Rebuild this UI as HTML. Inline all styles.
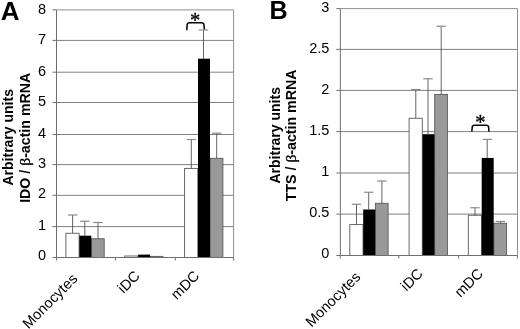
<!DOCTYPE html>
<html><head><meta charset="utf-8"><title>Figure</title>
<style>
html,body{margin:0;padding:0;background:#fff;}
svg{display:block;will-change:transform;opacity:0.999;}
text{font-family:"Liberation Sans",Arial,sans-serif;fill:#000;}
.tk{font-size:14.5px;}
.cat{font-size:14.6px;}
.pl{font-size:24.5px;font-weight:bold;}
.yt{font-size:14.2px;font-weight:bold;}
.beta{font-weight:normal;font-size:15.6px;font-family:"Liberation Serif","DejaVu Serif",serif;stroke:#000;stroke-width:0.3px;}
.ast{font-size:20.5px;stroke:#000;stroke-width:0.35px;font-family:"Liberation Serif","DejaVu Serif",serif;}
</style></head><body>
<svg width="520" height="329" viewBox="0 0 520 329">
<rect width="520" height="329" fill="#fff"/>
<line x1="56.5" y1="9.9" x2="233.6" y2="9.9" stroke="#909090" stroke-width="1"/>
<line x1="52.5" y1="9.9" x2="56.5" y2="9.9" stroke="#6e6e6e" stroke-width="1"/>
<text x="46" y="13.6" text-anchor="end" class="tk">8</text>
<line x1="56.5" y1="40.4" x2="233.6" y2="40.4" stroke="#808080" stroke-width="1"/>
<line x1="52.5" y1="40.4" x2="56.5" y2="40.4" stroke="#6e6e6e" stroke-width="1"/>
<text x="46" y="43.99" text-anchor="end" class="tk">7</text>
<line x1="56.5" y1="72.2" x2="233.6" y2="72.2" stroke="#808080" stroke-width="1"/>
<line x1="52.5" y1="72.2" x2="56.5" y2="72.2" stroke="#6e6e6e" stroke-width="1"/>
<text x="46" y="75.67" text-anchor="end" class="tk">6</text>
<line x1="56.5" y1="102.5" x2="233.6" y2="102.5" stroke="#808080" stroke-width="1"/>
<line x1="52.5" y1="102.5" x2="56.5" y2="102.5" stroke="#6e6e6e" stroke-width="1"/>
<text x="46" y="105.86" text-anchor="end" class="tk">5</text>
<line x1="56.5" y1="134.5" x2="233.6" y2="134.5" stroke="#808080" stroke-width="1"/>
<line x1="52.5" y1="134.5" x2="56.5" y2="134.5" stroke="#6e6e6e" stroke-width="1"/>
<text x="46" y="137.75" text-anchor="end" class="tk">4</text>
<line x1="56.5" y1="164.6" x2="233.6" y2="164.6" stroke="#808080" stroke-width="1"/>
<line x1="52.5" y1="164.6" x2="56.5" y2="164.6" stroke="#6e6e6e" stroke-width="1"/>
<text x="46" y="167.74" text-anchor="end" class="tk">3</text>
<line x1="56.5" y1="195.3" x2="233.6" y2="195.3" stroke="#808080" stroke-width="1"/>
<line x1="52.5" y1="195.3" x2="56.5" y2="195.3" stroke="#6e6e6e" stroke-width="1"/>
<text x="46" y="198.33" text-anchor="end" class="tk">2</text>
<line x1="56.5" y1="226.6" x2="233.6" y2="226.6" stroke="#808080" stroke-width="1"/>
<line x1="52.5" y1="226.6" x2="56.5" y2="226.6" stroke="#6e6e6e" stroke-width="1"/>
<text x="46" y="229.51" text-anchor="end" class="tk">1</text>
<line x1="52.5" y1="257.5" x2="56.5" y2="257.5" stroke="#6e6e6e" stroke-width="1"/>
<text x="46" y="260.3" text-anchor="end" class="tk">0</text>
<line x1="233.6" y1="9.9" x2="233.6" y2="257.5" stroke="#909090" stroke-width="1"/>
<rect x="65.9" y="233.25" width="13.2" height="24.25" fill="#fff" stroke="#5a5a5a" stroke-width="0.9"/>
<rect x="91.5" y="238.75" width="12.7" height="18.75" fill="#999" stroke="#5a5a5a" stroke-width="0.9"/>
<rect x="79.3" y="235.7" width="12" height="21.8" fill="#000"/>
<line x1="72.6" y1="215" x2="72.6" y2="233.25" stroke="#484848" stroke-width="0.85"/>
<line x1="67.9" y1="215" x2="77.3" y2="215" stroke="#8a8a8a" stroke-width="1.2"/>
<line x1="84.8" y1="221.25" x2="84.8" y2="236" stroke="#484848" stroke-width="0.85"/>
<line x1="80.1" y1="221.25" x2="89.5" y2="221.25" stroke="#8a8a8a" stroke-width="1.2"/>
<line x1="98" y1="222.5" x2="98" y2="238.75" stroke="#484848" stroke-width="0.85"/>
<line x1="93.3" y1="222.5" x2="102.7" y2="222.5" stroke="#8a8a8a" stroke-width="1.2"/>
<rect x="124.7" y="256" width="13.2" height="1.5" fill="#fff" stroke="#5a5a5a" stroke-width="0.9"/>
<rect x="150.3" y="256.4" width="12.7" height="1.1" fill="#999" stroke="#5a5a5a" stroke-width="0.9"/>
<rect x="138.1" y="254.6" width="12" height="2.9" fill="#000"/>
<rect x="184.6" y="168.4" width="13.2" height="89.1" fill="#fff" stroke="#5a5a5a" stroke-width="0.9"/>
<rect x="210.2" y="158.3" width="12.7" height="99.2" fill="#999" stroke="#5a5a5a" stroke-width="0.9"/>
<rect x="198" y="58.7" width="12" height="198.8" fill="#000"/>
<line x1="191.3" y1="139.5" x2="191.3" y2="168.4" stroke="#484848" stroke-width="0.85"/>
<line x1="186.6" y1="139.5" x2="196" y2="139.5" stroke="#8a8a8a" stroke-width="1.2"/>
<line x1="203.5" y1="30" x2="203.5" y2="59" stroke="#484848" stroke-width="0.85"/>
<line x1="198.8" y1="30" x2="208.2" y2="30" stroke="#8a8a8a" stroke-width="1.2"/>
<line x1="216.7" y1="133.2" x2="216.7" y2="158.3" stroke="#484848" stroke-width="0.85"/>
<line x1="212" y1="133.2" x2="221.4" y2="133.2" stroke="#8a8a8a" stroke-width="1.2"/>
<line x1="56.5" y1="9.9" x2="56.5" y2="257.5" stroke="#6e6e6e" stroke-width="1"/>
<line x1="56.5" y1="257.5" x2="233.6" y2="257.5" stroke="#6e6e6e" stroke-width="1"/>
<line x1="56.5" y1="257.5" x2="56.5" y2="260.5" stroke="#6e6e6e" stroke-width="1"/>
<line x1="115.4" y1="257.5" x2="115.4" y2="260.5" stroke="#6e6e6e" stroke-width="1"/>
<line x1="175.3" y1="257.5" x2="175.3" y2="260.5" stroke="#6e6e6e" stroke-width="1"/>
<line x1="233.6" y1="257.5" x2="233.6" y2="260.5" stroke="#6e6e6e" stroke-width="1"/>
<text transform="translate(78.3 279.7) rotate(-45)" text-anchor="end" class="cat">Monocytes</text>
<text transform="translate(140.8 276.8) rotate(-45)" text-anchor="end" class="cat">iDC</text>
<text transform="translate(200.3 276.8) rotate(-45)" text-anchor="end" class="cat">mDC</text>
<line x1="340.35" y1="8.6" x2="517.5" y2="8.6" stroke="#909090" stroke-width="1"/>
<line x1="336.35" y1="8.6" x2="340.35" y2="8.6" stroke="#6e6e6e" stroke-width="1"/>
<text x="329.4" y="12.3" text-anchor="end" class="tk">3</text>
<line x1="340.35" y1="49.4" x2="517.5" y2="49.4" stroke="#808080" stroke-width="1"/>
<line x1="336.35" y1="49.4" x2="340.35" y2="49.4" stroke="#6e6e6e" stroke-width="1"/>
<text x="329.4" y="52.95" text-anchor="end" class="tk">2.5</text>
<line x1="340.35" y1="90.4" x2="517.5" y2="90.4" stroke="#808080" stroke-width="1"/>
<line x1="336.35" y1="90.4" x2="340.35" y2="90.4" stroke="#6e6e6e" stroke-width="1"/>
<text x="329.4" y="93.8" text-anchor="end" class="tk">2</text>
<line x1="340.35" y1="131.6" x2="517.5" y2="131.6" stroke="#808080" stroke-width="1"/>
<line x1="336.35" y1="131.6" x2="340.35" y2="131.6" stroke="#6e6e6e" stroke-width="1"/>
<text x="329.4" y="134.85" text-anchor="end" class="tk">1.5</text>
<line x1="340.35" y1="173" x2="517.5" y2="173" stroke="#808080" stroke-width="1"/>
<line x1="336.35" y1="173" x2="340.35" y2="173" stroke="#6e6e6e" stroke-width="1"/>
<text x="329.4" y="176.1" text-anchor="end" class="tk">1</text>
<line x1="340.35" y1="214.1" x2="517.5" y2="214.1" stroke="#808080" stroke-width="1"/>
<line x1="336.35" y1="214.1" x2="340.35" y2="214.1" stroke="#6e6e6e" stroke-width="1"/>
<text x="329.4" y="217.05" text-anchor="end" class="tk">0.5</text>
<line x1="336.35" y1="255.5" x2="340.35" y2="255.5" stroke="#6e6e6e" stroke-width="1"/>
<text x="329.4" y="258.3" text-anchor="end" class="tk">0</text>
<line x1="517.5" y1="8.6" x2="517.5" y2="255.5" stroke="#909090" stroke-width="1"/>
<rect x="349.8" y="224.6" width="13.2" height="30.9" fill="#fff" stroke="#5a5a5a" stroke-width="0.9"/>
<rect x="375.4" y="203.3" width="12.7" height="52.2" fill="#999" stroke="#5a5a5a" stroke-width="0.9"/>
<rect x="363.2" y="209.5" width="12" height="46" fill="#000"/>
<line x1="356.5" y1="204.3" x2="356.5" y2="224.6" stroke="#484848" stroke-width="0.85"/>
<line x1="351.8" y1="204.3" x2="361.2" y2="204.3" stroke="#8a8a8a" stroke-width="1.2"/>
<line x1="368.7" y1="192.25" x2="368.7" y2="209.8" stroke="#484848" stroke-width="0.85"/>
<line x1="364" y1="192.25" x2="373.4" y2="192.25" stroke="#8a8a8a" stroke-width="1.2"/>
<line x1="381.9" y1="181" x2="381.9" y2="203.3" stroke="#484848" stroke-width="0.85"/>
<line x1="377.2" y1="181" x2="386.6" y2="181" stroke="#8a8a8a" stroke-width="1.2"/>
<rect x="409.1" y="118.25" width="13.2" height="137.25" fill="#fff" stroke="#5a5a5a" stroke-width="0.9"/>
<rect x="434.7" y="94.5" width="12.7" height="161" fill="#999" stroke="#5a5a5a" stroke-width="0.9"/>
<rect x="422.5" y="134.2" width="12" height="121.3" fill="#000"/>
<line x1="415.8" y1="89.5" x2="415.8" y2="118.25" stroke="#484848" stroke-width="0.85"/>
<line x1="411.1" y1="89.5" x2="420.5" y2="89.5" stroke="#8a8a8a" stroke-width="1.2"/>
<line x1="428" y1="78.75" x2="428" y2="134.5" stroke="#484848" stroke-width="0.85"/>
<line x1="423.3" y1="78.75" x2="432.7" y2="78.75" stroke="#8a8a8a" stroke-width="1.2"/>
<line x1="441.2" y1="26.25" x2="441.2" y2="94.5" stroke="#484848" stroke-width="0.85"/>
<line x1="436.5" y1="26.25" x2="445.9" y2="26.25" stroke="#8a8a8a" stroke-width="1.2"/>
<rect x="468.3" y="215.25" width="13.2" height="40.25" fill="#fff" stroke="#5a5a5a" stroke-width="0.9"/>
<rect x="493.9" y="223.25" width="12.7" height="32.25" fill="#999" stroke="#5a5a5a" stroke-width="0.9"/>
<rect x="481.7" y="157.95" width="12" height="97.55" fill="#000"/>
<line x1="475" y1="207.75" x2="475" y2="215.25" stroke="#484848" stroke-width="0.85"/>
<line x1="470.3" y1="207.75" x2="479.7" y2="207.75" stroke="#8a8a8a" stroke-width="1.2"/>
<line x1="487.2" y1="139.4" x2="487.2" y2="158.25" stroke="#484848" stroke-width="0.85"/>
<line x1="482.5" y1="139.4" x2="491.9" y2="139.4" stroke="#8a8a8a" stroke-width="1.2"/>
<line x1="500.4" y1="221.5" x2="500.4" y2="223.25" stroke="#484848" stroke-width="0.85"/>
<line x1="495.7" y1="221.5" x2="505.1" y2="221.5" stroke="#8a8a8a" stroke-width="1.2"/>
<line x1="340.35" y1="8.6" x2="340.35" y2="255.5" stroke="#6e6e6e" stroke-width="1"/>
<line x1="340.35" y1="255.5" x2="517.5" y2="255.5" stroke="#6e6e6e" stroke-width="1"/>
<line x1="340.2" y1="255.5" x2="340.2" y2="258.5" stroke="#6e6e6e" stroke-width="1"/>
<line x1="398.8" y1="255.5" x2="398.8" y2="258.5" stroke="#6e6e6e" stroke-width="1"/>
<line x1="458.5" y1="255.5" x2="458.5" y2="258.5" stroke="#6e6e6e" stroke-width="1"/>
<line x1="517.5" y1="255.5" x2="517.5" y2="258.5" stroke="#6e6e6e" stroke-width="1"/>
<text transform="translate(361.4 277.8) rotate(-45)" text-anchor="end" class="cat">Monocytes</text>
<text transform="translate(423.8 274.6) rotate(-45)" text-anchor="end" class="cat">iDC</text>
<text transform="translate(483.9 274.6) rotate(-45)" text-anchor="end" class="cat">mDC</text>
<text x="0.7" y="19.6" class="pl" style="font-size:26px">A</text>
<text x="269.4" y="19.3" class="pl" style="font-size:25.2px">B</text>
<text transform="translate(12.6 137.3) rotate(-90)" text-anchor="middle" class="yt" style="font-size:14px">Arbitrary units</text>
<text transform="translate(30.3 137.8) rotate(-90)" text-anchor="middle" class="yt">IDO / <tspan class="beta">β</tspan>-actin mRNA</text>
<text transform="translate(280.3 135.3) rotate(-90)" text-anchor="middle" class="yt" style="font-size:14px">Arbitrary units</text>
<text transform="translate(296.3 135.4) rotate(-90)" text-anchor="middle" class="yt">TTS / <tspan class="beta">β</tspan>-actin mRNA</text>
<path d="M186.7 30.2 L187.2 24.6 Q187.4 22.7 189.4 22.7 H201.6 Q203.7 22.7 203.9 24.6 L204.4 29.4" fill="none" stroke="#000" stroke-width="1.5" stroke-linejoin="round"/>
<text x="195.1" y="27.4" text-anchor="middle" class="ast">*</text>
<path d="M471.8 131.8 L472.2 127.2 Q472.4 125.3 474.4 125.3 H486.4 Q488.4 125.3 488.6 127.2 L489 131.8" fill="none" stroke="#000" stroke-width="1.5" stroke-linejoin="round"/>
<text x="480.3" y="129" text-anchor="middle" class="ast">*</text>
</svg>
</body></html>
